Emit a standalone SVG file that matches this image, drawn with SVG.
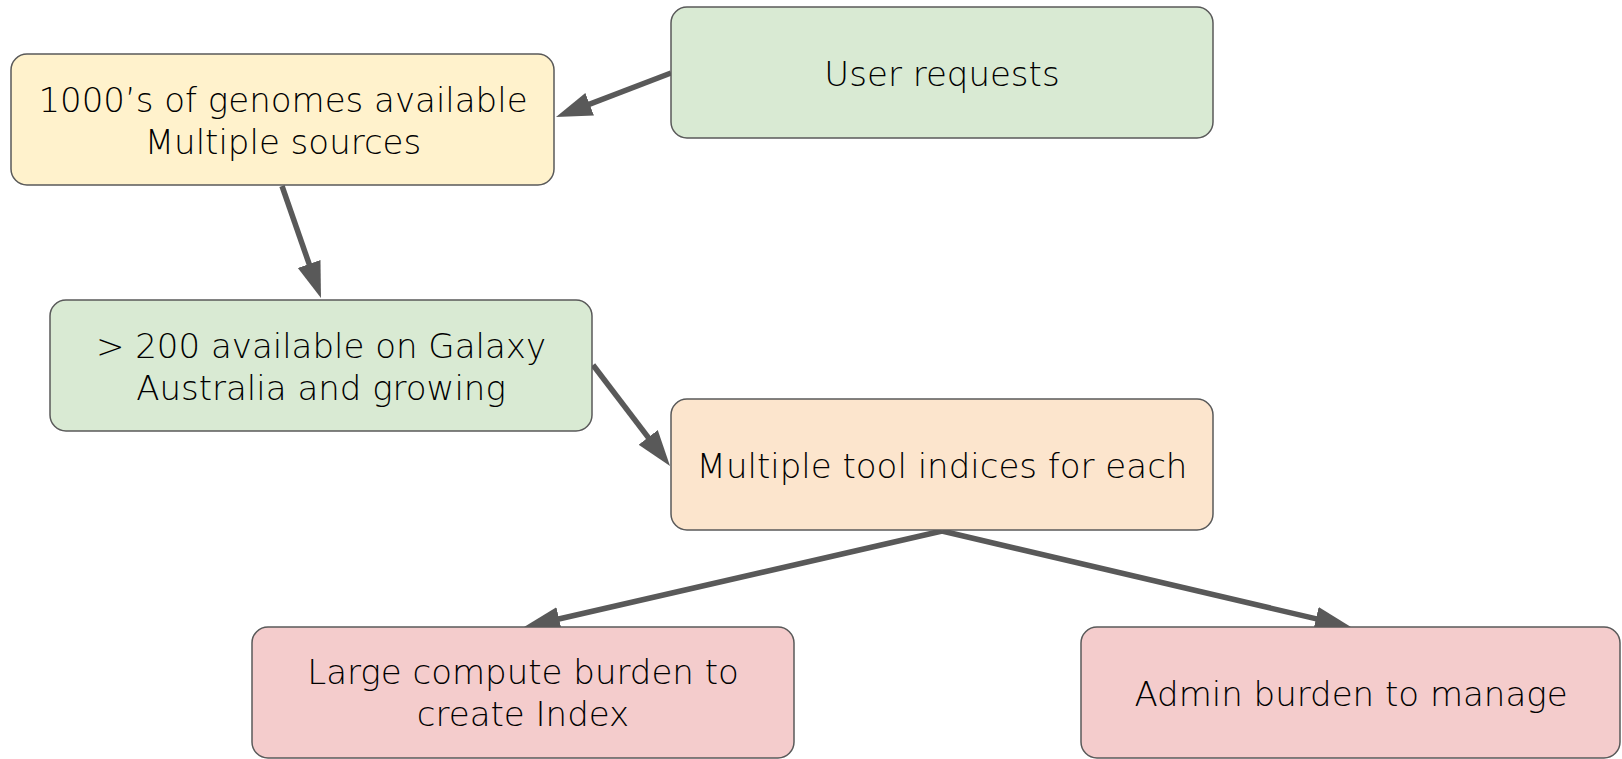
<svg xmlns="http://www.w3.org/2000/svg" width="1622" height="759" viewBox="0 0 1622 759">
<style>
.box{stroke:#595959;stroke-width:1.5}
.t{font-family:"DejaVu Sans","Open Sans",sans-serif;font-weight:200;font-size:34px;fill:#000;text-anchor:middle}
.c{stroke:#595959;stroke-width:5.5;fill:none;marker-end:url(#ah)}
</style>
<defs>
<marker id="ah" markerUnits="userSpaceOnUse" markerWidth="40" markerHeight="28" refX="16" refY="12" orient="auto">
<path d="M0,0 L36,12 L0,24 z" fill="#595959"/>
</marker>
</defs>
<rect width="1622" height="759" fill="#fff"/>
<g id="connectors">
<line class="c" x1="671" y1="73" x2="574.7" y2="109.9"/>
<line class="c" x1="282" y1="186" x2="314.4" y2="279.1"/>
<line class="c" x1="593" y1="365" x2="657.9" y2="450.1"/>
<line class="c" x1="942" y1="531" x2="543.5" y2="622.5"/>
<line class="c" x1="942" y1="531" x2="1331.5" y2="622.4"/>
</g>
<g id="genomes">
<rect class="box" x="11" y="54" width="543" height="131" rx="16" fill="#fff2cc"/>
<text class="t" x="283" y="112">1000’s of genomes available</text>
<text class="t" x="283" y="154">Multiple sources</text>
</g>
<g id="user-requests">
<rect class="box" x="671" y="7" width="542" height="131" rx="16" fill="#d9ead3"/>
<text class="t" x="942" y="86">User requests</text>
</g>
<g id="galaxy">
<rect class="box" x="50" y="300" width="542" height="131" rx="16" fill="#d9ead3"/>
<text class="t" x="321" y="358">&gt; 200 available on Galaxy</text>
<text class="t" x="321" y="400">Australia and growing</text>
</g>
<g id="indices">
<rect class="box" x="671" y="399" width="542" height="131" rx="16" fill="#fce5cd"/>
<text class="t" x="942" y="478">Multiple tool indices for each</text>
</g>
<g id="compute">
<rect class="box" x="252" y="627" width="542" height="131" rx="16" fill="#f4cccc"/>
<text class="t" x="523" y="684">Large compute burden to</text>
<text class="t" x="523" y="726">create Index</text>
</g>
<g id="admin">
<rect class="box" x="1081" y="627" width="539" height="131" rx="16" fill="#f4cccc"/>
<text class="t" x="1351" y="706">Admin burden to manage</text>
</g>
</svg>
